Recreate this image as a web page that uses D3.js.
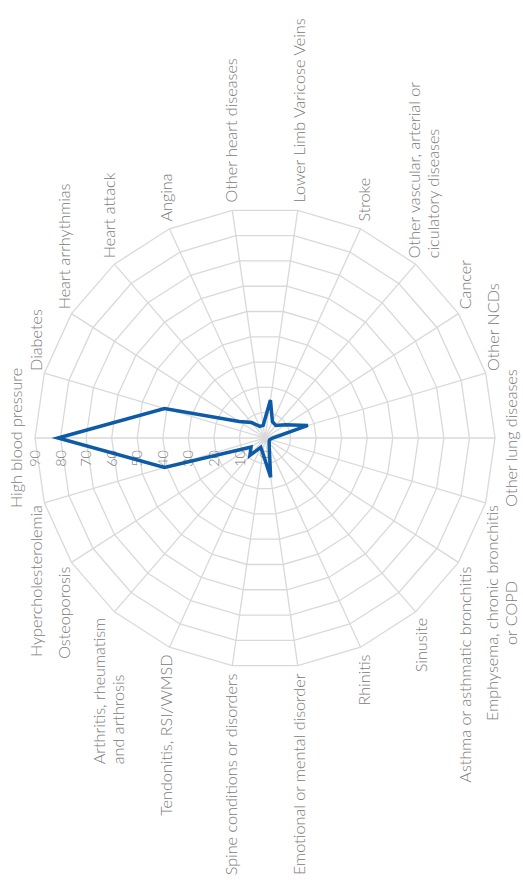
<!DOCTYPE html>
<html>
<head>
<meta charset="utf-8">
<script src="https://cdn.jsdelivr.net/npm/d3@7"></script>
<style>
  body { margin: 0; background: #fff; }
  text { font-family: Lato, "Open Sans", sans-serif; font-weight: 300; }
</style>
</head>
<body>
<script>
// radar chart of chronic diseases, drawn upright then turned 90deg like the source

const categories = [
  "High blood pressure",
  "Diabetes",
  "Heart arrhythmias",
  "Heart attack",
  "Angina",
  "Other heart diseases",
  "Lower Limb Varicose Veins",
  "Stroke",
  "Other vascular, arterial or\nciculatory diseases",
  "Cancer",
  "Other NCDs",
  "Other lung diseases",
  "Emphysema, chronic bronchitis\nor COPD",
  "Asthma or asthmatic bronchitis",
  "Sinusite",
  "Rhinitis",
  "Emotional or mental disorder",
  "Spine conditions or disorders",
  "Tendonitis, RSI/WMSD",
  "Arthritis, rheumatism\nand arthrosis",
  "Osteoporosis",
  "Hypercholesterolemia"
];
const values = [81, 41, 12, 8, 5, 5, 15, 7, 6.5, 9.5, 17.5, 3, 2, 2, 2.5, 4, 15.5, 6, 4, 9, 6.5, 41];
const tickValues = [0, 10, 20, 30, 40, 50, 60, 70, 80, 90];

const width = 523;
const height = 891;
const cx = 265, cy = 438;
const R = 230;
const fs = 16.2;       // category label size
const lh = 19;         // line height of wrapped labels
const grey = '#7a7a7a';
const gridColor = '#d9d9d9';

const rScale = d3.scaleLinear().domain([0, 90]).range([0, R]);
const aScale = d3.scaleLinear().domain([0, categories.length]).range([0, 2 * Math.PI]);

const svg = d3.select('body')
  .append('svg')
  .attr('width', width)
  .attr('height', height);

// whole chart turned a quarter turn anticlockwise
const g = svg.append('g')
  .attr('transform', `translate(${cx},${cy}) rotate(-90)`);

// rings
const ring = d3.lineRadial()
  .angle((d, i) => aScale(i))
  .radius(d => d)
  .curve(d3.curveLinearClosed);

g.append('g')
  .selectAll('path')
  .data(tickValues.filter(v => v > 0))
  .join('path')
  .attr('d', v => ring(categories.map(() => rScale(v))))
  .attr('fill', 'none')
  .attr('stroke', gridColor)
  .attr('stroke-width', 1.3);

// spokes
g.append('g')
  .selectAll('line')
  .data(categories)
  .join('line')
  .attr('x1', 0)
  .attr('y1', 0)
  .attr('x2', (d, i) => Math.sin(aScale(i)) * rScale(90))
  .attr('y2', (d, i) => -Math.cos(aScale(i)) * rScale(90))
  .attr('stroke', gridColor)
  .attr('stroke-width', 1.3);

// tick labels along the first spoke
g.append('g')
  .selectAll('text')
  .data(tickValues)
  .join('text')
  .attr('x', -12)
  .attr('y', v => -rScale(v))
  .attr('dy', '0.35em')
  .attr('text-anchor', 'end')
  .attr('font-size', 14.5)
  .attr('fill', grey)
  .text(v => v);

// series
const line = d3.lineRadial()
  .angle((d, i) => aScale(i))
  .radius(d => rScale(d))
  .curve(d3.curveLinearClosed);

g.append('path')
  .datum(values)
  .attr('d', line)
  .attr('fill', 'none')
  .attr('stroke', '#0d5aa7')
  .attr('stroke-width', 3.5)
  .attr('stroke-linejoin', 'miter');

// category labels
const labels = g.append('g');
categories.forEach((name, i) => {
  const a = aScale(i);
  const s = Math.sin(a), c = Math.cos(a);
  const bx = s * (R + 8);
  const by = -c * (R + 8);
  const lines = name.split('\n');
  const n = lines.length;

  const t = labels.append('text')
    .attr('font-size', fs)
    .attr('fill', grey);

  if (Math.abs(s) < 0.05) {
    // top / bottom
    const y = c > 0 ? -(R + 10) - 0.2 * fs : (R + 10) + 0.75 * fs;
    t.attr('text-anchor', 'middle')
      .append('tspan').attr('x', 0).attr('y', y).text(lines[0]);
    return;
  }

  const spans = lines.map(l => t.append('tspan').text(l));
  const widths = spans.map(sp => sp.node().getComputedTextLength());
  const maxW = d3.max(widths);
  const centred = n > 1 && Math.abs(s) < 0.35;
  const shift = (n - 1) / 2 * lh * Math.min(1, Math.max(0, (-c - 0.5) * 2));

  spans.forEach((sp, k) => {
    const yc = by + (k - (n - 1) / 2) * lh + shift;
    let x, anchor;
    if (centred) {
      x = s > 0 ? bx + maxW / 2 : bx - maxW / 2;
      anchor = 'middle';
    } else if (s > 0) {
      x = bx; anchor = 'start';
    } else {
      x = bx - maxW; anchor = 'start';
    }
    sp.attr('x', x).attr('y', yc + 0.35 * fs).attr('text-anchor', anchor);
  });
});
</script>
</body>
</html>
